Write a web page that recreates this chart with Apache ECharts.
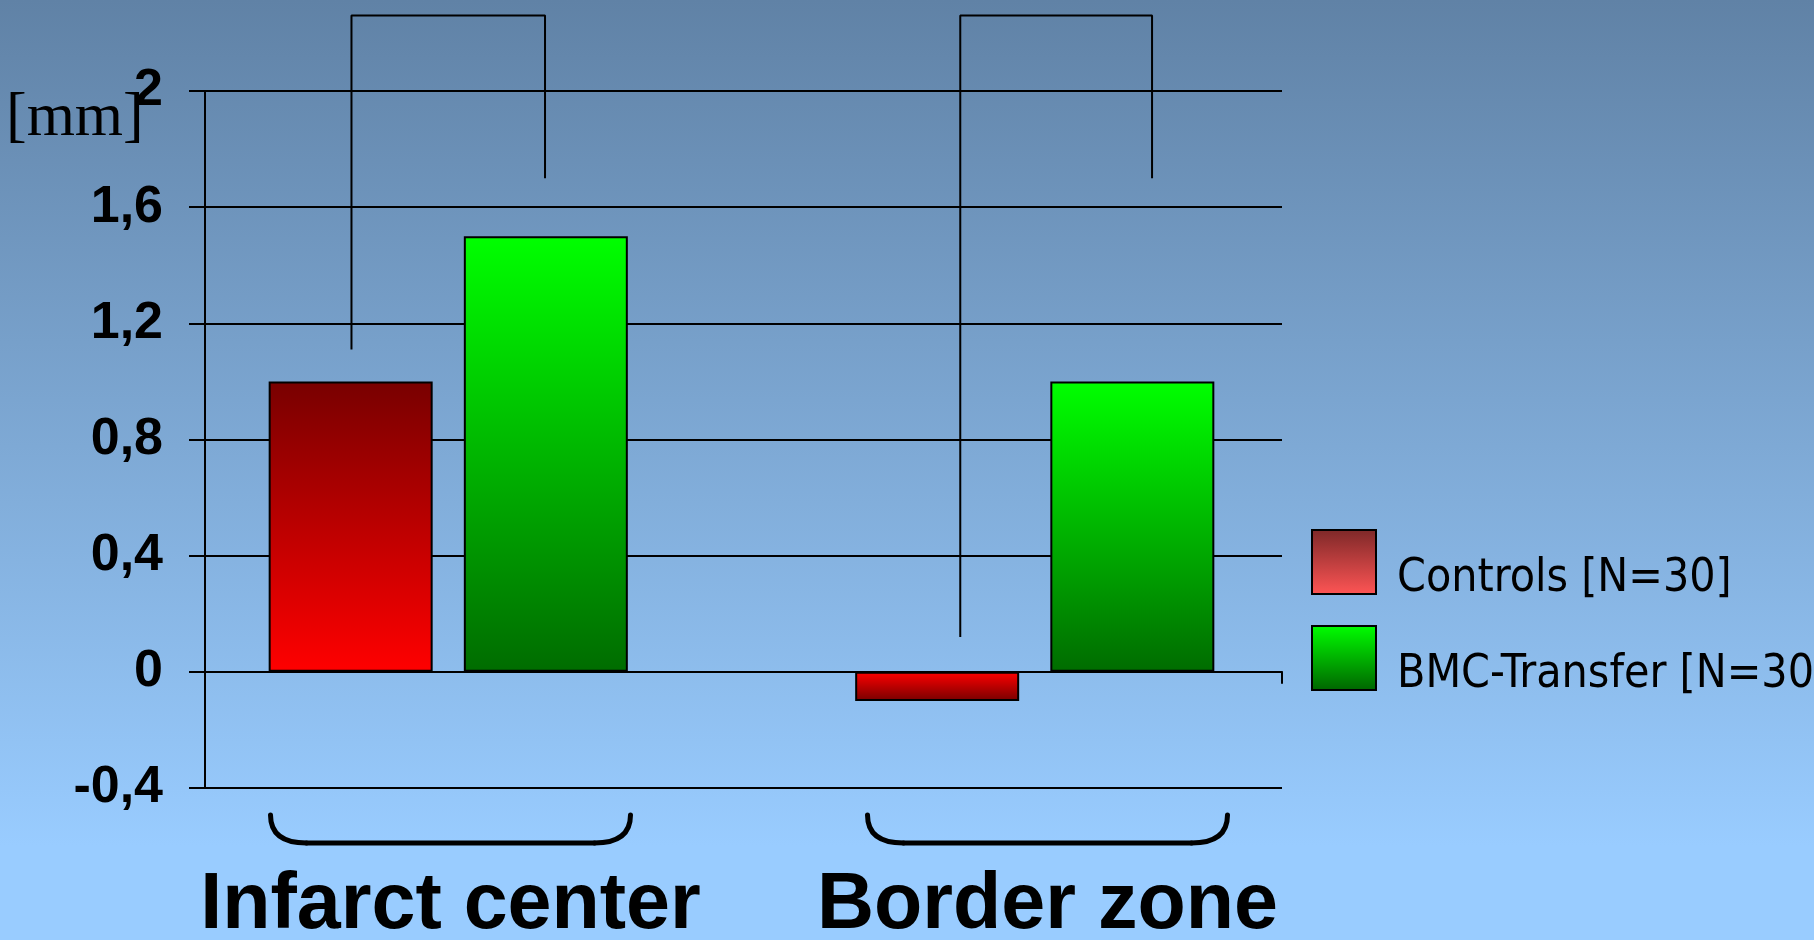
<!DOCTYPE html>
<html><head><meta charset="utf-8">
<script src="https://cdn.jsdelivr.net/npm/echarts@6/dist/echarts.min.js"></script>
<style>html,body{margin:0;padding:0;background:#fff;} #c{width:1814px;height:940px;}</style>
</head><body><div id="c"></div>
<script>
// ---------- data ----------
const categories = ['Infarct center', 'Border zone'];
const seriesNames = ['Controls [N=30]', 'BMC-Transfer [N=30]'];
const controls = [1.0, -0.1];
const bmc = [1.5, 1.0];
const yMin = -0.4, yMax = 2, yStep = 0.4;
const yTickValues = [-0.4, 0, 0.4, 0.8, 1.2, 1.6, 2];
const yTickLabels = ['-0,4', '0', '0,4', '0,8', '1,2', '1,6', '2'];
const yUnit = '[mm]';
// significance brackets (x in category units of the bar axis, y in mm)
const bracketLegX = [[-0.165, 0.165], [0.873, 1.2]];
const bracketLegBottom = [[1.11, 1.70], [0.12, 1.70]];
const bracketTop = [2.26, 2.26];

// ---------- styles ----------
function grad(top, bottom, end) {
  return { type: 'linear', x: 0, y: 0, x2: 0, y2: 1,
    colorStops: [{ offset: 0, color: top }, { offset: end || 1, color: bottom }, { offset: 1, color: bottom }] };
}
const redDark = '#780000', redLight = '#ff0000';
const greenLight = '#00ff00', greenDark = '#006c00';
function redFill(v) { return v >= 0 ? grad(redDark, redLight) : grad(redLight, redDark); }
function greenFill(v) { return v >= 0 ? grad(greenLight, greenDark) : grad(greenDark, greenLight); }

const black = '#000';
const fmtY = v => {
  const i = yTickValues.findIndex(t => Math.abs(t - v) < 1e-6);
  return i >= 0 ? yTickLabels[i] : '';
};

const chart = echarts.init(document.getElementById('c'), null, { renderer: 'canvas' });

const bracketSeries = bracketLegX.map((xs, i) => ({
  type: 'line', xAxisIndex: 2, yAxisIndex: 1, clip: false, silent: true,
  symbol: 'none', z: 5,
  lineStyle: { color: black, width: 2 },
  data: [[xs[0], bracketLegBottom[i][0]], [xs[0], bracketTop[i]],
         [xs[1], bracketTop[i]], [xs[1], bracketLegBottom[i][1]]]
}));

const legendFont = { fontFamily: 'DejaVu Sans Condensed, DejaVu Sans', fontSize: 46, color: black, lineHeight: 40 };

const option = {
  backgroundColor: grad('#6082a6', '#99ccff', 0.9),
  animation: false,
  title: {
    text: yUnit, left: 1, top: 83,
    textStyle: { fontFamily: 'Liberation Serif', fontSize: 62, fontWeight: 'normal', color: black, lineHeight: 62 }
  },
  legend: {
    orient: 'vertical', left: 1306, top: 517,
    itemWidth: 64, itemHeight: 64, itemGap: 16,
    data: [
      { name: seriesNames[0], icon: 'rect',
        itemStyle: { color: grad('#7d2828', '#ff5555'), borderColor: black, borderWidth: 2 } },
      { name: seriesNames[1], icon: 'rect',
        itemStyle: { color: grad('#00ff00', '#006400'), borderColor: black, borderWidth: 2 } }
    ],
    formatter: name => '{t|' + name + '}',
    textStyle: Object.assign({
      padding: [0, 0, 0, 16],
      rich: { t: Object.assign({ padding: [34, 0, 0, 0] }, legendFont) }
    }, legendFont)
  },
  grid: [
    { left: 205, right: 532, top: 91, bottom: 152, outerBoundsMode: 'none' },
    { left: 155, right: 486, top: 91, bottom: 152, outerBoundsMode: 'none' },
    { left: 152, right: 468, top: 91, bottom: 152, outerBoundsMode: 'none' }
  ],
  xAxis: [
    { gridIndex: 0, type: 'value', min: 0, max: 1, interval: 1,
      axisLine: { show: true, onZero: true, lineStyle: { color: black, width: 2 } },
      axisTick: { show: true, length: 12, lineStyle: { color: black, width: 2 } },
      axisLabel: { show: false }, splitLine: { show: false } },
    { gridIndex: 1, type: 'category', data: categories, show: false },
    { gridIndex: 1, type: 'value', min: -0.5, max: 1.5, show: false },
    { gridIndex: 2, type: 'category', data: categories, position: 'bottom',
      axisLine: { show: false, onZero: false }, axisTick: { show: false },
      axisLabel: { show: true, interval: 0, margin: 79, color: black, fontFamily: 'Liberation Sans, Arial',
        fontWeight: 'bold', fontSize: 79, hideOverlap: false } }
  ],
  yAxis: [
    { gridIndex: 0, type: 'value', min: yMin, max: yMax, interval: yStep,
      axisLine: { show: true, lineStyle: { color: black, width: 2 } },
      axisTick: { show: true, length: 16, lineStyle: { color: black, width: 2 } },
      axisLabel: { show: true, margin: 42, formatter: fmtY, color: black,
        fontFamily: 'Liberation Sans, Arial', fontWeight: 'bold', fontSize: 52 },
      splitLine: { show: true, lineStyle: { color: black, width: 2 } } },
    { gridIndex: 1, type: 'value', min: yMin, max: yMax, interval: yStep, show: false, splitLine: { show: false } },
    { gridIndex: 2, type: 'value', min: yMin, max: yMax, interval: yStep, show: false, splitLine: { show: false } }
  ],
  series: [
    { name: seriesNames[0], type: 'bar', xAxisIndex: 1, yAxisIndex: 1,
      barWidth: 164, barGap: '19%', z: 3,
      data: controls.map(v => ({ value: v, itemStyle: { color: redFill(v), borderColor: black, borderWidth: 2 } })) },
    { name: seriesNames[1], type: 'bar', xAxisIndex: 1, yAxisIndex: 1,
      barWidth: 164, barGap: '19%', z: 3,
      data: bmc.map(v => ({ value: v, itemStyle: { color: greenFill(v), borderColor: black, borderWidth: 2 } })) },
    ...bracketSeries,
    { type: 'custom', xAxisIndex: 3, yAxisIndex: 2, clip: false, silent: true, z: 5,
      data: categories.map((c, i) => [i]),
      renderItem: function (params, api) {
        const c = api.coord([api.value(0), yMin]);
        const cx = c[0], y0 = c[1] + 27, y1 = c[1] + 55, hw = 180, r = 36;
        const st = { stroke: black, lineWidth: 5, fill: null, lineCap: 'round' };
        return { type: 'group', children: [
          { type: 'bezierCurve', shape: { x1: cx - hw, y1: y0, x2: cx - hw + r, y2: y1, cpx1: cx - hw, cpy1: y1 }, style: st },
          { type: 'line', shape: { x1: cx - hw + r, y1: y1, x2: cx + hw - r, y2: y1 }, style: st },
          { type: 'bezierCurve', shape: { x1: cx + hw - r, y1: y1, x2: cx + hw, y2: y0, cpx1: cx + hw, cpy1: y1 }, style: st }
        ] };
      }
    }
  ]
};
chart.setOption(option);
</script></body></html>
